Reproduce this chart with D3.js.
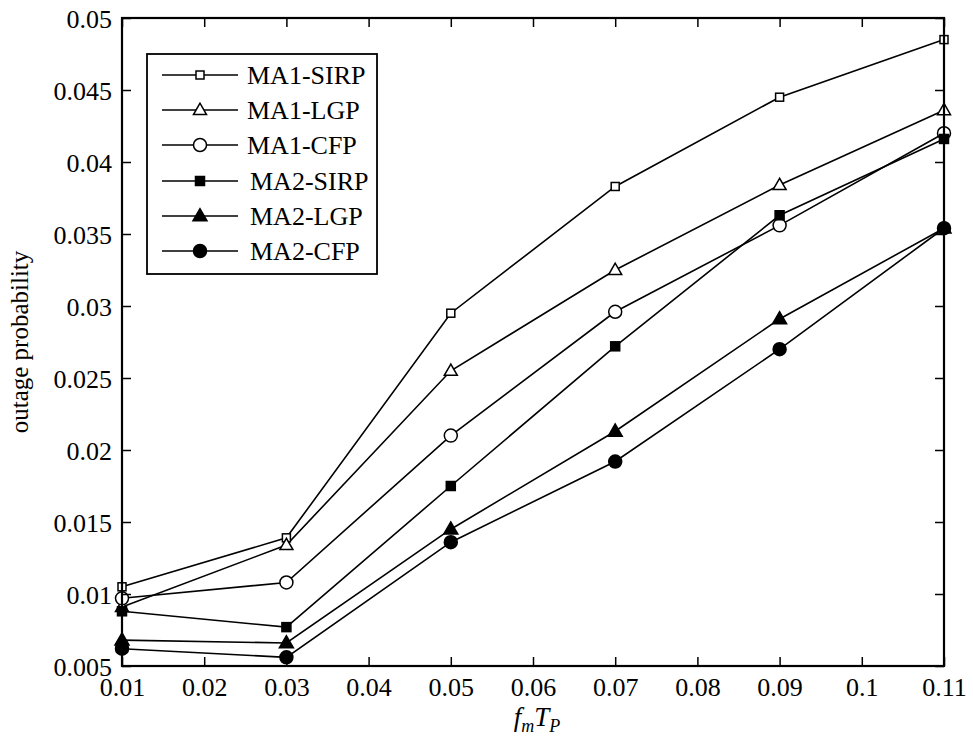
<!DOCTYPE html>
<html><head><meta charset="utf-8">
<script src="https://cdn.jsdelivr.net/npm/d3@7"></script>
<style>
body{margin:0;background:#fff;}
svg{display:block;}
text{font-family:"Liberation Serif","Times New Roman",serif;fill:#000;}
</style></head>
<body>
<svg id="chart" width="973" height="751"></svg>
<script>
const xValues = [0.01, 0.03, 0.05, 0.07, 0.09, 0.11];
const ma1Sirp = [0.0105, 0.0139, 0.0295, 0.0383, 0.0445, 0.0485];
const ma1Lgp  = [0.0091, 0.0134, 0.0255, 0.0325, 0.0384, 0.0436];
const ma1Cfp  = [0.0097, 0.0108, 0.0210, 0.0296, 0.0356, 0.0420];
const ma2Sirp = [0.0088, 0.0077, 0.0175, 0.0272, 0.0363, 0.0416];
const ma2Lgp  = [0.0068, 0.0066, 0.0145, 0.0213, 0.0291, 0.0354];
const ma2Cfp  = [0.0062, 0.0056, 0.0136, 0.0192, 0.0270, 0.0354];
const seriesNames = ["MA1-SIRP", "MA1-LGP", "MA1-CFP", "MA2-SIRP", "MA2-LGP", "MA2-CFP"];
const xTicks = [0.01, 0.02, 0.03, 0.04, 0.05, 0.06, 0.07, 0.08, 0.09, 0.1, 0.11];
const yTicks = [0.005, 0.01, 0.015, 0.02, 0.025, 0.03, 0.035, 0.04, 0.045, 0.05];
const yLabel = "outage probability";

const series = [
  {name: seriesNames[0], values: ma1Sirp, shape: "square", filled: false, size: 8},
  {name: seriesNames[1], values: ma1Lgp, shape: "triangle", filled: false, size: 13},
  {name: seriesNames[2], values: ma1Cfp, shape: "circle", filled: false, size: 13},
  {name: seriesNames[3], values: ma2Sirp, shape: "square", filled: true, size: 9},
  {name: seriesNames[4], values: ma2Lgp, shape: "triangle", filled: true, size: 14},
  {name: seriesNames[5], values: ma2Cfp, shape: "circle", filled: true, size: 13}
];

const svg = d3.select("#chart");
const L = 122, R = 944, T = 18, B = 666;
const x = d3.scaleLinear().domain([0.01, 0.11]).range([L, R]);
const y = d3.scaleLinear().domain([0.005, 0.05]).range([B, T]);

function drawMarker(g, s, cx, cy) {
  const fill = s.filled ? "#000" : "#fff";
  const sw = 1.5;
  if (s.shape === "square") {
    const h = s.size / 2;
    g.append("rect").attr("x", cx - h).attr("y", cy - h).attr("width", s.size).attr("height", s.size)
      .attr("fill", fill).attr("stroke", "#000").attr("stroke-width", sw);
  } else if (s.shape === "circle") {
    g.append("circle").attr("cx", cx).attr("cy", cy).attr("r", s.size / 2)
      .attr("fill", fill).attr("stroke", "#000").attr("stroke-width", sw);
  } else {
    const w = s.size / 2, h = s.size * 0.87;
    const pts = [[cx, cy - h * 0.6], [cx - w, cy + h * 0.4], [cx + w, cy + h * 0.4]];
    g.append("polygon").attr("points", pts.map(p => p.join(",")).join(" "))
      .attr("fill", fill).attr("stroke", "#000").attr("stroke-width", sw).attr("stroke-linejoin", "miter");
  }
}

// series lines
const line = d3.line().x((d, i) => x(xValues[i])).y(d => y(d));
const plot = svg.append("g");
series.forEach(s => {
  plot.append("path").attr("d", line(s.values)).attr("fill", "none")
    .attr("stroke", "#000").attr("stroke-width", 1.6);
});
series.forEach(s => {
  const g = plot.append("g");
  s.values.forEach((v, i) => drawMarker(g, s, x(xValues[i]), y(v)));
});

// axes (ticks inward)
const tickLen = 9;
const fs = 26;
const xAxisB = d3.axisBottom(x).tickValues(xTicks).tickSize(-tickLen).tickPadding(12)
  .tickFormat(d => String(+d.toFixed(3)));
const gxb = svg.append("g").attr("transform", `translate(0,${B})`).call(xAxisB);
const xAxisT = d3.axisTop(x).tickValues(xTicks).tickSize(-tickLen).tickFormat("");
const gxt = svg.append("g").attr("transform", `translate(0,${T})`).call(xAxisT);
const yAxisL = d3.axisLeft(y).tickValues(yTicks).tickSize(-tickLen).tickPadding(10)
  .tickFormat(d => String(+d.toFixed(3)));
const gyl = svg.append("g").attr("transform", `translate(${L},0)`).call(yAxisL);
const yAxisR = d3.axisRight(y).tickValues(yTicks).tickSize(-tickLen).tickFormat("");
const gyr = svg.append("g").attr("transform", `translate(${R},0)`).call(yAxisR);
[gxb, gxt, gyl, gyr].forEach(g => {
  g.select(".domain").remove();
  g.selectAll(".tick line").attr("stroke", "#000").attr("stroke-width", 1.5);
  g.selectAll("text").attr("font-size", fs).attr("font-family", "Liberation Serif").attr("fill", "#000");
});
gyl.selectAll(".tick text").attr("dy", "0.35em");
gxb.selectAll(".tick text").attr("dy", "0.68em");
svg.append("rect").attr("x", L).attr("y", T).attr("width", R - L).attr("height", B - T)
  .attr("fill", "none").attr("stroke", "#000").attr("stroke-width", 2.2);

// axis titles
svg.append("text").attr("transform", `translate(28,${(T + B) / 2}) rotate(-90)`)
  .attr("text-anchor", "middle").attr("font-size", 25).text(yLabel);
const xt = svg.append("text").attr("x", (L + R) / 2 + 4).attr("y", 726).attr("text-anchor", "middle")
  .attr("font-size", 27).attr("font-style", "italic");
xt.append("tspan").text("f");
xt.append("tspan").attr("font-size", 18).attr("dy", 6).text("m");
xt.append("tspan").attr("dy", -6).text("T");
xt.append("tspan").attr("font-size", 18).attr("dy", 6).text("P");

// legend
const lg = svg.append("g");
lg.append("rect").attr("x", 147).attr("y", 54).attr("width", 230).attr("height", 220)
  .attr("fill", "#fff").attr("stroke", "#000").attr("stroke-width", 1.8);
const rowY = [75, 110, 145, 181, 216, 251];
series.forEach((s, i) => {
  const yy = rowY[i];
  lg.append("line").attr("x1", 162).attr("x2", 238).attr("y1", yy).attr("y2", yy)
    .attr("stroke", "#000").attr("stroke-width", 1.6);
  drawMarker(lg, s, 200, yy);
  lg.append("text").attr("x", i < 3 ? 247 : 250).attr("y", yy).attr("dy", "0.35em")
    .attr("font-size", 26).text(s.name);
});
</script>
</body></html>
